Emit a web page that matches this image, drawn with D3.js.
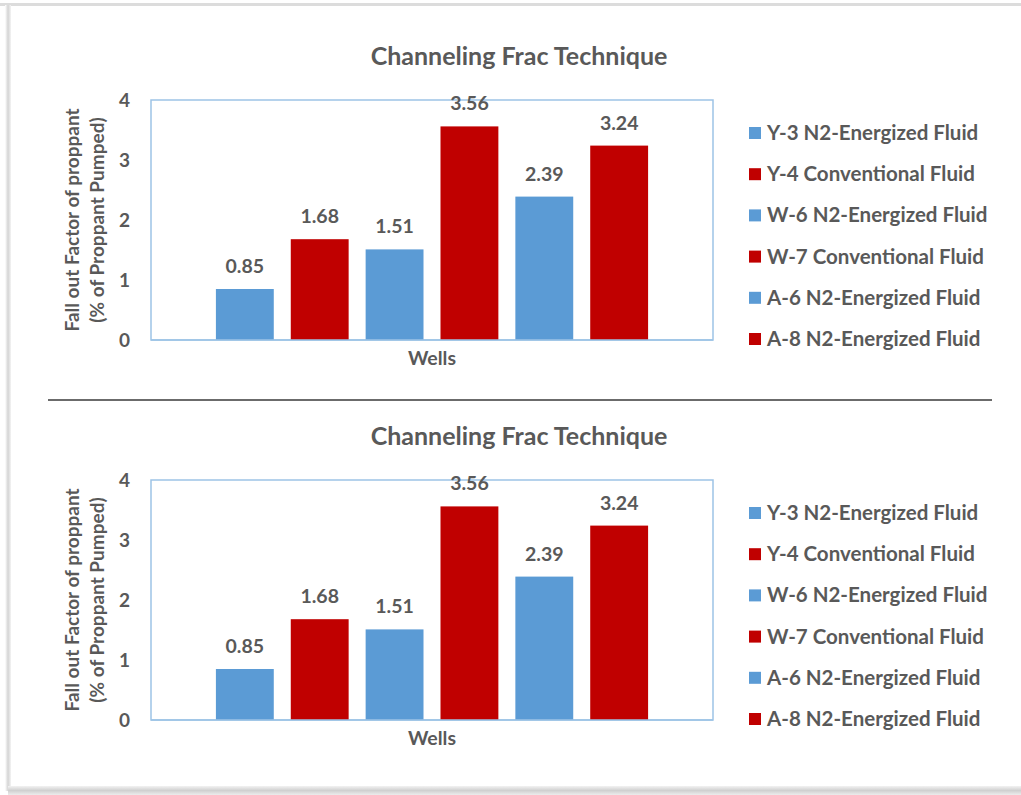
<!DOCTYPE html>
<html>
<head>
<meta charset="utf-8">
<script src="https://cdn.jsdelivr.net/npm/d3@7"></script>
<style>
  html, body { margin: 0; padding: 0; background: #fff; }
  svg { display: block; }
  text { font-family: Lato, "Open Sans", sans-serif; font-weight: 700; fill: #595959; }
</style>
</head>
<body>
<svg id="chart" width="1021" height="795"></svg>
<script>
// Fall-out factor per well, one series per well/fluid combination
const seriesNames = [
  "Y-3 N2-Energized Fluid",
  "Y-4 Conventional Fluid",
  "W-6 N2-Energized Fluid",
  "W-7 Conventional Fluid",
  "A-6 N2-Energized Fluid",
  "A-8 N2-Energized Fluid"
];
const seriesValues = [0.85, 1.68, 1.51, 3.56, 2.39, 3.24];
const seriesColors = ["#5B9BD5", "#C00000", "#5B9BD5", "#C00000", "#5B9BD5", "#C00000"];
const yTicks = [0, 1, 2, 3, 4];
const chartTitle = "Channeling Frac Technique";
const xTitle = "Wells";
const yTitleLines = ["Fall out Factor of proppant", "(% of Proppant Pumped)"];

const svg = d3.select("#chart");

// page frame with soft edge shading
const defs = svg.append("defs");
const gl = defs.append("linearGradient").attr("id", "shadeL").attr("x1", 0).attr("x2", 1);
gl.append("stop").attr("offset", 0).attr("stop-color", "#ffffff");
gl.append("stop").attr("offset", 0.5).attr("stop-color", "#d4d4d4");
gl.append("stop").attr("offset", 1).attr("stop-color", "#f4f4f4");
const gb = defs.append("linearGradient").attr("id", "shadeB").attr("x1", 0).attr("x2", 0).attr("y1", 0).attr("y2", 1);
gb.append("stop").attr("offset", 0).attr("stop-color", "#f2f2f2");
gb.append("stop").attr("offset", 0.5).attr("stop-color", "#d0d0d0");
gb.append("stop").attr("offset", 1).attr("stop-color", "#ececec");

svg.append("rect").attr("width", 1021).attr("height", 795).attr("fill", "#fff");
svg.append("rect").attr("x", 0).attr("y", 3).attr("width", 1021).attr("height", 3).attr("fill", "#dcdcdc");
svg.append("rect").attr("x", 5).attr("y", 5).attr("width", 6).attr("height", 786).attr("fill", "url(#shadeL)");
svg.append("rect").attr("x", 8).attr("y", 786).attr("width", 1013).attr("height", 9).attr("fill", "url(#shadeB)");

// divider between the two panels
svg.append("line")
  .attr("x1", 48).attr("x2", 992).attr("y1", 400).attr("y2", 400)
  .attr("stroke", "#6b6b6b").attr("stroke-width", 2);

function drawPanel(offsetY) {
  const g = svg.append("g").attr("transform", `translate(0,${offsetY})`);
  const plot = { left: 151, right: 713, top: 100, bottom: 340 };

  const x = d3.scaleBand()
    .domain(seriesNames)
    .range([plot.left, plot.right])
    .paddingInner(0.227)
    .paddingOuter(0.867);
  const y = d3.scaleLinear().domain([0, 4]).range([plot.bottom, plot.top]);

  g.append("text")
    .attr("x", 519).attr("y", 65)
    .attr("text-anchor", "middle")
    .style("font-size", "25px")
    .text(chartTitle);

  // plot area outline
  g.append("rect")
    .attr("x", plot.left).attr("y", plot.top)
    .attr("width", plot.right - plot.left).attr("height", plot.bottom - plot.top)
    .attr("fill", "none").attr("stroke", "#9DC3E6").attr("stroke-width", 1.5);

  // y axis labels
  const yAxis = d3.axisLeft(y).tickValues(yTicks).tickFormat(d3.format("d")).tickSize(0).tickPadding(21);
  const ya = g.append("g").attr("transform", `translate(${plot.left},0)`).call(yAxis);
  ya.select(".domain").remove();
  ya.selectAll("text").style("font-size", "19px").attr("fill", "#595959")
    .style("font-family", "Lato, 'Open Sans', sans-serif").style("font-weight", 700);

  // bars
  const data = seriesNames.map((n, i) => ({ name: n, value: seriesValues[i], color: seriesColors[i] }));
  g.selectAll("rect.bar").data(data).join("rect")
    .attr("class", "bar")
    .attr("x", d => x(d.name))
    .attr("width", x.bandwidth())
    .attr("y", d => y(d.value))
    .attr("height", d => y(0) - y(d.value))
    .attr("fill", d => d.color);

  // redraw baseline over bars
  g.append("line")
    .attr("x1", plot.left).attr("x2", plot.right)
    .attr("y1", plot.bottom).attr("y2", plot.bottom)
    .attr("stroke", "#9DC3E6").attr("stroke-width", 1.5);

  // value labels
  g.selectAll("text.val").data(data).join("text")
    .attr("class", "val")
    .attr("x", d => x(d.name) + x.bandwidth() / 2)
    .attr("y", d => y(d.value) - 16)
    .attr("text-anchor", "middle")
    .style("font-size", "19.5px")
    .text(d => d.value.toFixed(2));

  g.append("text")
    .attr("x", 432).attr("y", 365)
    .attr("text-anchor", "middle")
    .style("font-size", "19.5px")
    .text(xTitle);

  // y axis title, two rotated lines
  yTitleLines.forEach((t, i) => {
    g.append("text")
      .attr("transform", `translate(${79 + i * 25},220) rotate(-90)`)
      .attr("text-anchor", "middle")
      .style("font-size", "19px")
      .text(t);
  });

  // legend
  const lg = g.append("g");
  const items = lg.selectAll("g").data(data).join("g")
    .attr("transform", (d, i) => `translate(749,${133 + i * 41.2})`);
  items.append("rect").attr("x", 0).attr("y", -6).attr("width", 12).attr("height", 12).attr("fill", d => d.color);
  items.append("text").attr("x", 18).attr("y", 7).style("font-size", "20.5px").text(d => d.name);
}

drawPanel(0);
drawPanel(380);
</script>
</body>
</html>
